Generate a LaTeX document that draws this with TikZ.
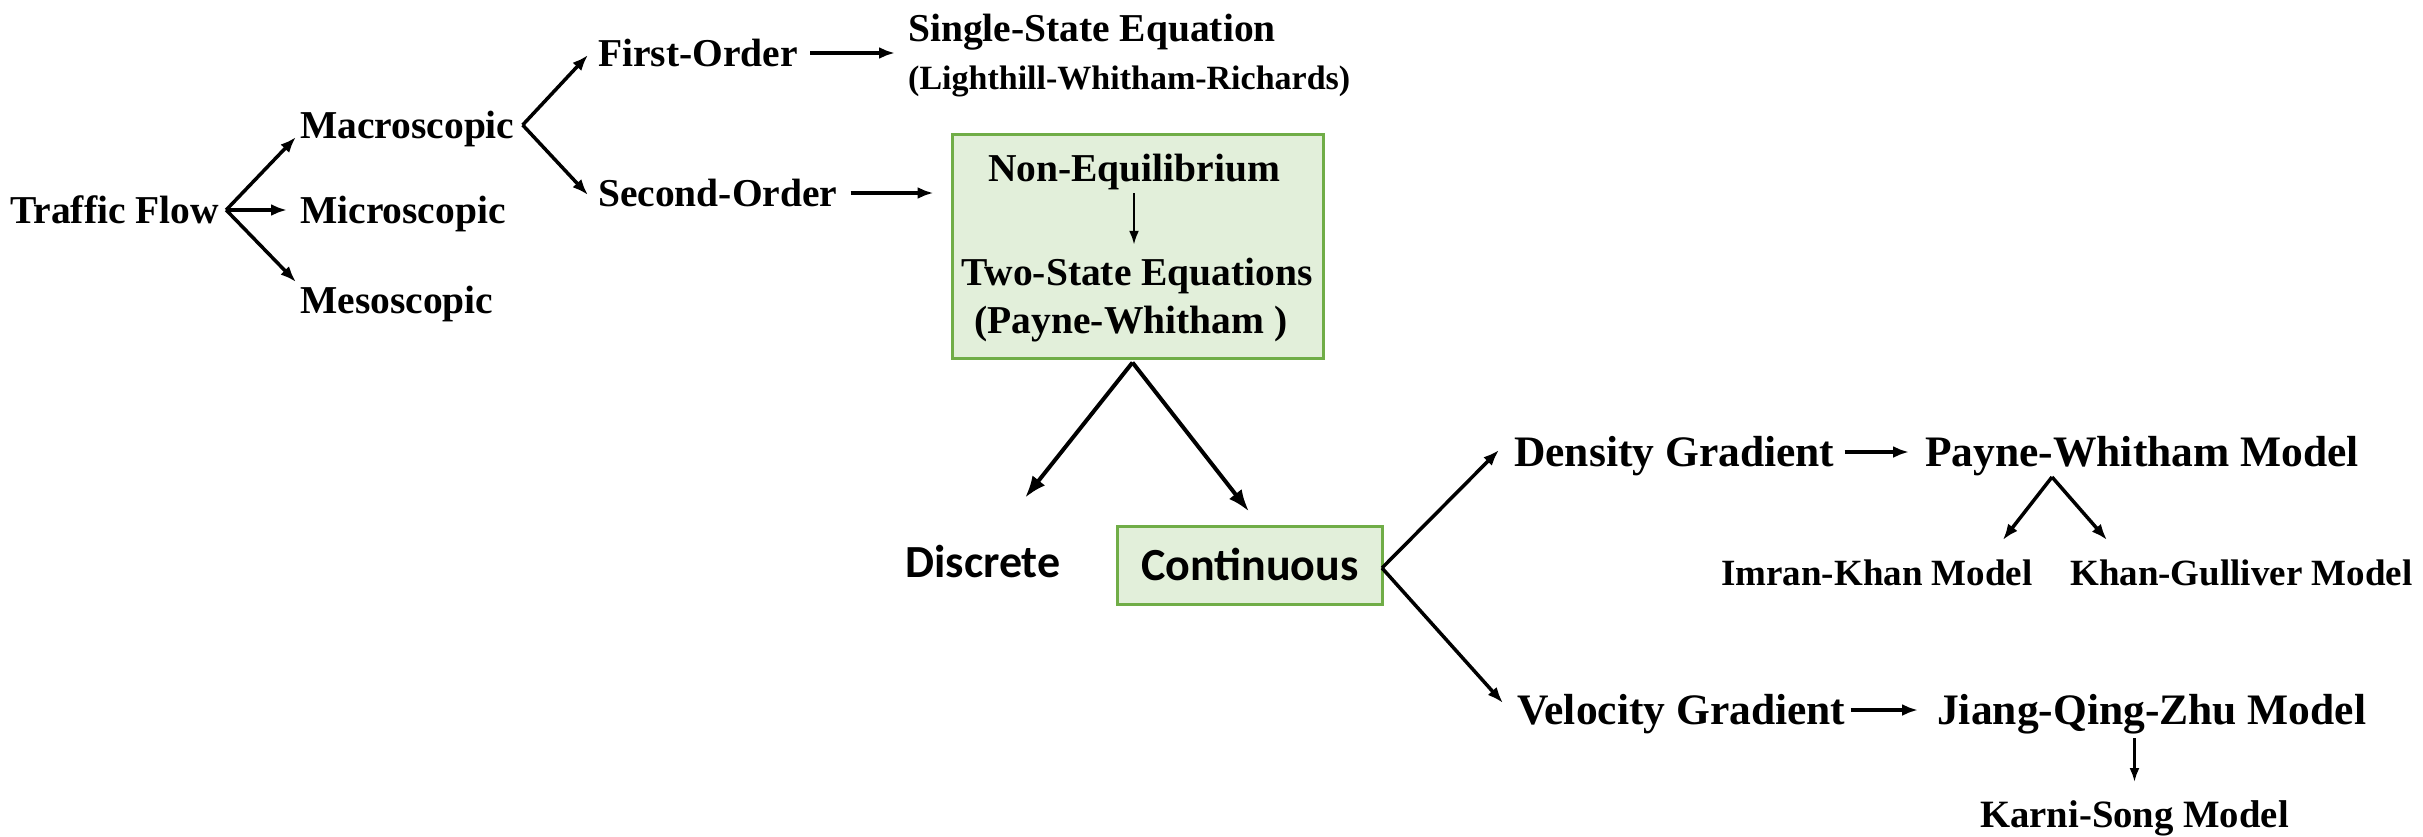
\documentclass[tikz,border=0pt]{standalone}
\usepackage{fontspec}
\setmainfont{Liberation Serif}
\newfontfamily\carlitofont{Carlito}
\usetikzlibrary{arrows.meta,calc}
\definecolor{boxfill}{HTML}{E2EFDA}
\definecolor{boxline}{HTML}{70AD47}
\tikzset{
  lbl/.style={inner sep=0pt, text depth=0pt, text height=26pt, font=\bfseries\fontsize{39.5}{44}\selectfont},
  biglbl/.style={inner sep=0pt, text depth=0pt, text height=29pt, font=\bfseries\fontsize{43.5}{48}\selectfont},
  smalllbl/.style={inner sep=0pt, text depth=0pt, text height=24.5pt, font=\bfseries\fontsize{37}{40}\selectfont},
  paren/.style={inner sep=0pt, text depth=0pt, text height=22.5pt, font=\bfseries\fontsize{34}{38}\selectfont},
  karni/.style={inner sep=0pt, text depth=0pt, text height=25.6pt, font=\bfseries\fontsize{38.7}{42}\selectfont},
  sanslbl/.style={inner sep=0pt, text depth=0pt, text height=30pt, font=\carlitofont\bfseries\fontsize{46}{50}\selectfont},
  greenbox/.style={draw=boxline, fill=boxfill, line width=3pt, inner sep=0pt},
  arr/.style={-{Latex[length=16pt,width=12pt]}, line width=3.5pt, black},
  bigarr/.style={-{Latex[length=22pt,width=16pt]}, line width=4pt, black},
  thinarr/.style={-{Latex[length=14pt,width=10pt]}, line width=2.5pt, black},
}
\begin{document}
\begin{tikzpicture}[x=1pt,y=-1pt]
\useasboundingbox (0,0) rectangle (2423,836);
% left part
\node[lbl, anchor=west] (tf) at (10,210) {Traffic Flow};
\node[lbl, anchor=west] (macro) at (300,125) {Macroscopic};
\node[lbl, anchor=west] (micro) at (300,210) {Microscopic};
\node[lbl, anchor=west] (meso) at (300,300) {Mesoscopic};
\node[lbl, anchor=west] (fo) at (598,53) {First-Order};
\node[lbl, anchor=west] (so) at (598,193) {Second-Order};
\node[lbl, anchor=west] (ss) at (908,28) {Single-State Equation};
\node[paren, anchor=west] (lwr) at (908,78) {(Lighthill-Whitham-Richards)};
% green box 1
\node[greenbox, minimum width=371pt, minimum height=224pt] (box1) at (1137.5,246) {};
\node[lbl] (noneq) at (1134,168) {Non-Equilibrium};
\node[lbl] (twostate) at (1137,272) {Two-State Equations};
\node[lbl] (pwbox) at (1131,320) {(Payne-Whitham )};
% discrete / continuous
\node[sanslbl] (disc) at (983,562) {Discrete};
\node[greenbox, sanslbl, minimum width=265pt, minimum height=78pt, text height=30pt, text depth=0pt] (cont) at (1250,565) {Continuous};
% right part
\node[biglbl, anchor=west] (dens) at (1514,452) {Density Gradient};
\node[biglbl, anchor=west] (velo) at (1517,710) {Velocity Gradient};
\node[biglbl, anchor=west] (pwm) at (1925,452) {Payne-Whitham Model};
\node[biglbl, anchor=west] (jqz) at (1937,710) {Jiang-Qing-Zhu Model};
\node[smalllbl, anchor=west] (ik) at (1721,573) {Imran-Khan Model};
\node[smalllbl, anchor=west] (kg) at (2070,573) {Khan-Gulliver Model};
\node[karni, anchor=west] (ks) at (1980,815) {Karni-Song Model};
% split points
\coordinate (tfsplit) at ($(tf.east)+(7,0)$);
\coordinate (macsplit) at ($(macro.east)+(8,0)$);
\coordinate (boxsplit) at ($(box1.south)+(-5,3)$);
\coordinate (contsplit) at ($(cont.east)+(-2,3)$);
\coordinate (pwsplit) at ($(pwm.west)+(127,25)$);
% connectors
\draw[arr] (tfsplit) -- ($(macro.west)+(-4,12)$);
\draw[arr] (tfsplit) -- ($(micro.west)+(-13,0)$);
\draw[arr] (tfsplit) -- ($(meso.west)+(-4,-18)$);
\draw[arr] (macsplit) -- ($(fo.west)+(-10,2)$);
\draw[arr] (macsplit) -- ($(so.west)+(-10,2)$);
\draw[arr, shorten <=12pt, shorten >=13pt] (fo.east) -- (fo.east -| ss.west);
\draw[arr, shorten <=13pt, shorten >=17pt] (so.east) -- (so.east -| box1.west);
\draw[thinarr, shorten <=12pt, shorten >=14pt] (noneq.south) -- (noneq.south |- twostate.north);
\draw[bigarr] (boxsplit) -- ($(disc.north)+(42,-49)$);
\draw[bigarr] (boxsplit) -- ($(cont.north)+(-1,-13)$);
\draw[arr] (contsplit) -- ($(dens.west)+(-15,-2)$);
\draw[arr] (contsplit) -- ($(velo.west)+(-14,-7)$);
\draw[arr, shorten <=10pt, shorten >=16pt] (dens.east) -- (dens.east -| pwm.west);
\draw[arr, shorten <=5pt, shorten >=19pt] (velo.east) -- (velo.east -| jqz.west);
\draw[arr] (pwsplit) -- ($(ik.east)+(-30,-33)$);
\draw[arr] (pwsplit) -- ($(kg.west)+(37,-33)$);
\draw[thinarr] ($(ks.north)+(0,-64)$) -- ($(ks.north)+(0,-20)$);
\end{tikzpicture}
\end{document}
